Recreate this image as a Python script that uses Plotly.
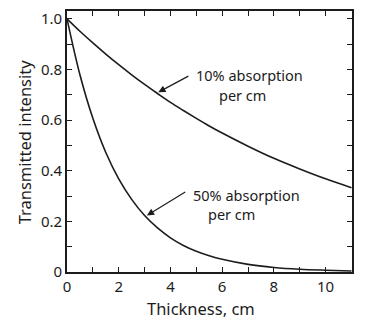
import plotly.graph_objects as go

# Thickness in cm and transmitted fraction for each absorber
thickness = [0, 0.5, 1, 1.5, 2, 2.5, 3, 3.5, 4, 4.5, 5, 5.5, 6, 7, 8, 9, 10, 11]
trans_10 = [1.0, 0.951, 0.905, 0.861, 0.819, 0.779, 0.741, 0.705, 0.670, 0.638,
            0.607, 0.577, 0.549, 0.497, 0.449, 0.407, 0.368, 0.333]
trans_50 = [1.0, 0.779, 0.607, 0.472, 0.368, 0.287, 0.223, 0.174, 0.135, 0.105,
            0.082, 0.064, 0.050, 0.030, 0.018, 0.011, 0.007, 0.004]

x_ticks = list(range(0, 12))
x_labels = [str(v) if v % 2 == 0 else "" for v in x_ticks]
y_ticks = [round(i * 0.1, 1) for i in range(0, 11)]
y_labels = ["0", "", "0.2", "", "0.4", "", "0.6", "", "0.8", "", "1.0"]

ink = "#1c1c1c"
font = "Noto Sans"

fig = go.Figure()
for ys in (trans_10, trans_50):
    fig.add_trace(go.Scatter(x=thickness, y=ys, mode="lines",
                             line=dict(color=ink, width=1.6, shape="spline"),
                             showlegend=False, hoverinfo="skip"))

axis_common = dict(showgrid=False, zeroline=False, showline=True, linecolor=ink,
                   linewidth=1.6, mirror="ticks", ticks="inside", ticklen=5,
                   tickwidth=1.2, tickcolor=ink,
                   tickfont=dict(family=font, size=15, color=ink))

fig.update_xaxes(range=[0, 11.02], tickvals=x_ticks, ticktext=x_labels, **axis_common)
fig.update_yaxes(range=[0, 1.031], tickvals=y_ticks, ticktext=y_labels, **axis_common)

# Arrows pointing at the curves
fig.add_annotation(x=3.53, y=0.71, ax=4.75, ay=0.777, axref="x", ayref="y",
                   text="", showarrow=True, arrowhead=2, arrowsize=1.2,
                   arrowwidth=1.2, arrowcolor=ink)
fig.add_annotation(x=3.09, y=0.223, ax=4.63, ay=0.32, axref="x", ayref="y",
                   text="", showarrow=True, arrowhead=2, arrowsize=1.2,
                   arrowwidth=1.2, arrowcolor=ink)

labels = [
    ("10% absorption", 7.05, 0.777),
    ("per cm", 6.8, 0.700),
    ("50% absorption", 6.95, 0.305),
    ("per cm", 6.35, 0.228),
]
for txt, lx, ly in labels:
    fig.add_annotation(x=lx, y=ly, text=txt, showarrow=False,
                       xanchor="center", yanchor="middle",
                       font=dict(family=font, size=14.5, color=ink))

# Axis titles
fig.add_annotation(xref="paper", yref="paper", x=-0.148, y=0.5,
                   text="Transmitted intensity", textangle=-90, showarrow=False,
                   xanchor="center", yanchor="middle",
                   font=dict(family=font, size=16.5, color=ink))
fig.add_annotation(xref="paper", yref="paper", x=0.47, y=-0.14,
                   text="Thickness, cm", showarrow=False,
                   xanchor="center", yanchor="middle",
                   font=dict(family=font, size=16.5, color=ink))

fig.update_layout(width=380, height=331, margin=dict(l=67, r=28, t=8, b=59),
                  paper_bgcolor="white", plot_bgcolor="white")

fig.write_html("out.html")
